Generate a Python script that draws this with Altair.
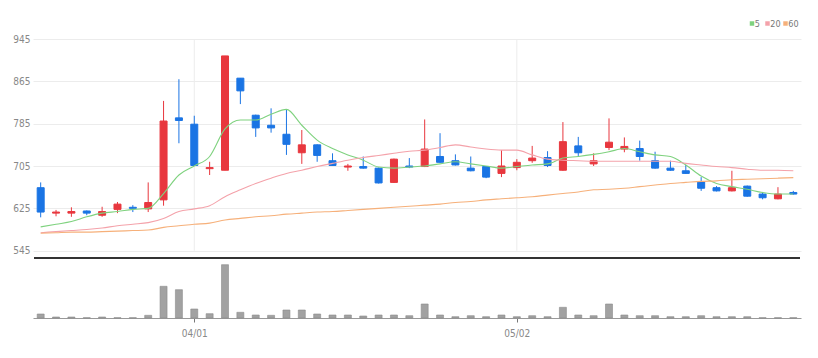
import altair as alt
import pandas as pd
import numpy as np

# ---------------- data ----------------
dates = ["03/18", "03/19", "03/20", "03/21", "03/22", "03/25", "03/26", "03/27", "03/28", "03/29",
         "04/01", "04/02", "04/03", "04/04", "04/05", "04/08", "04/09", "04/11", "04/12", "04/15",
         "04/16", "04/17", "04/18", "04/19", "04/22", "04/23", "04/24", "04/25", "04/26", "04/29",
         "04/30", "05/02", "05/03", "05/07", "05/08", "05/09", "05/10", "05/13", "05/14", "05/16",
         "05/17", "05/20", "05/21", "05/22", "05/23", "05/24", "05/27", "05/28", "05/29", "05/30"]
opens = [664, 616, 616, 620, 612, 623, 627, 624, 641, 796,
         784, 700, 697, 871, 801, 782, 765, 730, 745, 715,
         703, 704, 701, 674, 705, 704, 723, 715, 701, 704,
         691, 702, 715, 721, 697, 743, 709, 740, 737, 738,
         715, 701, 696, 675, 664, 658, 667, 652, 643, 655]
highs = [674, 622, 627, 621, 628, 637, 631, 674, 828, 869,
         800, 713, 913, 871, 802, 814, 811, 773, 746, 729,
         709, 723, 702, 719, 720, 793, 767, 727, 723, 705,
         735, 718, 743, 733, 788, 760, 729, 795, 759, 753,
         732, 715, 707, 684, 667, 696, 668, 656, 665, 658]
lows = [608, 610, 609, 612, 609, 616, 618, 618, 630, 748,
        705, 688, 697, 822, 760, 768, 726, 709, 713, 705,
        696, 700, 672, 673, 701, 703, 711, 706, 695, 682,
        684, 697, 711, 703, 696, 724, 705, 735, 731, 715,
        700, 696, 690, 658, 657, 657, 647, 642, 642, 651]
closes = [618, 618, 619, 616, 619, 633, 625, 636, 790, 791,
          706, 702, 913, 847, 777, 777, 746, 745, 725, 706,
          705, 701, 673, 718, 703, 737, 712, 707, 696, 684,
          705, 712, 720, 706, 751, 730, 715, 750, 742, 723,
          701, 697, 691, 663, 658, 664, 648, 645, 652, 652]
ma5 = [590, 595, 600, 609, 616, 619, 623, 625, 653, 688,
       705, 723, 775, 792, 792, 803, 812, 782, 754, 738,
       726, 716, 703, 701, 703, 705, 709, 713, 709, 705,
       701, 704, 707, 709, 720, 723, 727, 732, 738, 732,
       726, 723, 707, 686, 672, 666, 661, 655, 652, 652]
ma20 = [579, 581, 583, 585, 588, 592, 595, 598, 606, 619,
        624, 630, 647, 660, 672, 682, 691, 697, 704, 710,
        716, 721, 725, 729, 733, 735, 740, 745, 741, 737,
        735, 735, 726, 718, 716, 715, 714, 714, 714, 714,
        714, 714, 710, 707, 704, 702, 699, 697, 697, 696]
ma60 = [578, 579, 580, 580, 581, 582, 583, 584, 589, 592,
        595, 597, 603, 606, 609, 611, 614, 616, 618, 619,
        621, 623, 625, 627, 629, 631, 633, 636, 638, 641,
        643, 645, 647, 650, 653, 656, 660, 661, 663, 666,
        669, 672, 674, 676, 677, 679, 680, 681, 682, 683]
volume = [80, 20, 20, 6, 20, 6, 6, 54, 634, 566,
          180, 86, 1066, 114, 60, 54, 160, 160, 80, 60,
          60, 40, 60, 60, 46, 280, 60, 26, 46, 26,
          60, 26, 46, 26, 214, 60, 46, 280, 60, 46,
          46, 26, 26, 46, 26, 26, 26, 6, 6, 6]
y_ticks = [545, 625, 705, 785, 865, 945]
x_ticks = ["04/01", "05/02"]
ma_names = ["5", "20", "60"]

# ---------------- style ----------------
RED = "#e8373e"
BLUE = "#1a74e4"
MA_COLORS = ["#7fd27f", "#f4a2aa", "#f6b07a"]
FONT = "Liberation Sans Narrow, DejaVu Sans Condensed, Arial Narrow, sans-serif"
W, H = 768, 279
PRICE_DOMAIN = [417.8, 945]
VOL_DOMAIN = [0, 5580]

df = pd.DataFrame({"d": dates, "o": opens, "h": highs, "l": lows, "c": closes, "v": volume})
df["col"] = np.where(df["c"] >= df["o"], RED, BLUE)

ma_df = pd.concat([
    pd.DataFrame({"d": dates, "ma": name, "val": vals})
    for name, vals in zip(ma_names, [ma5, ma20, ma60])
])

xaxis = alt.Axis(values=x_ticks, labelAngle=0, grid=False, title=None,
                 domainColor="#999999", tickColor="#777777", tickSize=4,
                 labelPadding=6, labelColor="#888888", labelFontSize=10, labelFont=FONT)
xenc = alt.X("d:O", scale=alt.Scale(type="point", padding=0.5, domain=dates), axis=xaxis)

yaxis = alt.Axis(values=y_ticks, title=None, grid=True, gridColor="#ececec",
                 domain=False, ticks=False, labelColor="#888888", labelFontSize=10,
                 labelFont=FONT, labelPadding=3)
pscale = alt.Scale(domain=PRICE_DOMAIN, nice=False, zero=False)

vgrid = alt.Chart(pd.DataFrame({"d": x_ticks, "top": max(y_ticks), "bot": min(y_ticks)})).mark_rule(
    color="#ececec", strokeWidth=1
).encode(x=xenc, y=alt.Y("top:Q", scale=pscale, axis=yaxis), y2="bot:Q")

wicks = alt.Chart(df).mark_rule(strokeWidth=1).encode(
    x=xenc,
    y=alt.Y("l:Q", scale=pscale, axis=yaxis),
    y2="h:Q",
    stroke=alt.Stroke("col:N", scale=None),
)

bodies = alt.Chart(df).mark_bar(size=7, strokeWidth=1).encode(
    x=xenc,
    y=alt.Y("o:Q", scale=pscale, axis=yaxis),
    y2="c:Q",
    fill=alt.Fill("col:N", scale=None),
    stroke=alt.Stroke("col:N", scale=None),
)

lines = alt.Chart(ma_df).mark_line(strokeWidth=1.1, interpolate="monotone").encode(
    x=xenc,
    y=alt.Y("val:Q", scale=pscale, axis=yaxis),
    color=alt.Color("ma:N", scale=alt.Scale(domain=ma_names, range=MA_COLORS), legend=None),
    detail="ma:N",
)

price = alt.layer(vgrid, wicks, bodies, lines)

vol = alt.Chart(df).mark_bar(size=7, fill="#a2a2a2", stroke="#8c8c8c", strokeWidth=0.6).encode(
    x=xenc,
    y=alt.Y("v:Q", scale=alt.Scale(domain=VOL_DOMAIN, nice=False), axis=None),
)

one = pd.DataFrame({"k": [0]})
sep = alt.Chart(one).mark_rule(color="#333333", strokeWidth=2).encode(
    x=alt.value(1), x2=alt.value(W - 1), y=alt.value(219)
)

legend_layers = []
sq_x = [719, 734.5, 752.5]
tx_x = [721.8, 737.3, 755.3]
for name, colr, sx, tx in zip(ma_names, MA_COLORS, sq_x, tx_x):
    legend_layers.append(
        alt.Chart(one).mark_square(size=20, color=colr, opacity=1).encode(
            x=alt.value(sx), y=alt.value(-15.5))
    )
    legend_layers.append(
        alt.Chart(one).mark_text(align="left", baseline="middle", fontSize=9, font=FONT,
                                 color="#777777").encode(
            x=alt.value(tx), y=alt.value(-15), text=alt.value(name))
    )

chart = alt.layer(price, vol, sep, *legend_layers).resolve_scale(y="independent").properties(
    width=W, height=H,
    padding={"left": 25, "top": 31, "right": 9, "bottom": 30},
    autosize=alt.AutoSizeParams(type="none"),
).configure_view(stroke=None)

chart.save("out.html", embed_options={"renderer": "svg", "actions": False})
